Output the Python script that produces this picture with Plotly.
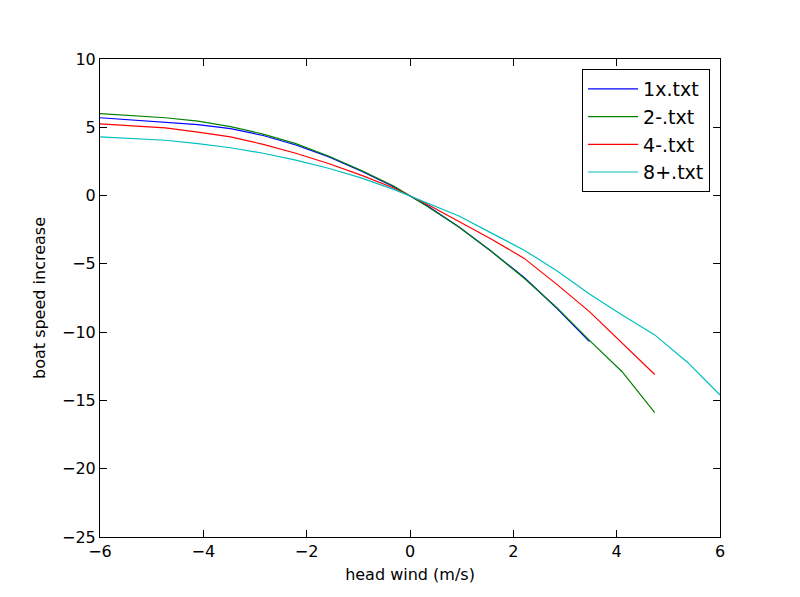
import numpy as np
import plotly.graph_objects as go

# head wind grid (m/s), 20 evenly spaced samples
wind = np.linspace(-6, 6, 20)

speed_1x = [5.7, 5.55, 5.4, 5.2, 4.9, 4.4, 3.7, 2.85, 1.8, 0.65,
            -0.7, -2.3, -4.1, -6.0, -8.25, -10.7]
speed_2m = [6.0, 5.85, 5.7, 5.45, 5.05, 4.5, 3.8, 2.9, 1.85, 0.7,
            -0.75, -2.3, -4.1, -6.05, -8.2, -10.6, -12.9, -15.9]
speed_4m = [5.25, 5.1, 4.95, 4.65, 4.3, 3.75, 3.1, 2.35, 1.5, 0.55,
            -0.6, -1.9, -3.2, -4.6, -6.5, -8.5, -10.8, -13.1]
speed_8p = [4.3, 4.2, 4.05, 3.8, 3.5, 3.1, 2.6, 2.0, 1.3, 0.45,
            -0.5, -1.5, -2.75, -4.0, -5.5, -7.2, -8.75, -10.2, -12.2, -14.6]

names = ["1x.txt", "2-.txt", "4-.txt", "8+.txt"]
series = [speed_1x, speed_2m, speed_4m, speed_8p]
colors = ["#0000ff", "#008000", "#ff0000", "#00bfbf"]

fig = go.Figure()
for name, ys, c in zip(names, series, colors):
    fig.add_trace(go.Scatter(x=wind[:len(ys)], y=ys, mode="lines", name=name,
                             line=dict(color=c, width=1.2)))

axis_style = dict(showline=True, linecolor="black", linewidth=1, mirror="ticks",
                  ticks="inside", ticklen=7, tickcolor="black", showgrid=False,
                  zeroline=False, tickfont=dict(size=16, color="black"))
fig.update_xaxes(range=[-6, 6], dtick=2, title=dict(text="head wind (m/s)", font=dict(size=16), standoff=8),
                 **axis_style)
fig.update_yaxes(range=[-25, 10], dtick=5, title=dict(text="boat speed increase", font=dict(size=16), standoff=12),
                 **axis_style)

# page body has an 8px margin, so the figure is 8px smaller and margins shifted
fig.update_layout(
    width=792, height=589,
    margin=dict(l=92, r=80, t=51, b=60),
    paper_bgcolor="white", plot_bgcolor="white",
    font=dict(family="DejaVu Sans", color="black"),
    legend=dict(x=0.984, y=0.979, xanchor="right", yanchor="top",
                bordercolor="black", borderwidth=1, bgcolor="white",
                font=dict(size=19), tracegroupgap=0, itemwidth=50),
)

fig.write_html("out.html")
